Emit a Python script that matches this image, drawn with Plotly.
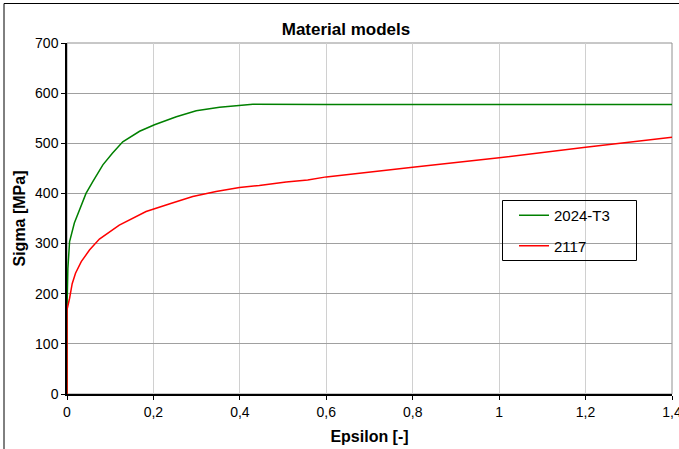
import plotly.graph_objects as go

# 2024-T3 material curve
alu2024_eps = [0, 0, 0.002, 0.006, 0.017, 0.030, 0.044, 0.060, 0.083, 0.105, 0.129, 0.168,
               0.2025, 0.253, 0.299, 0.353, 0.399, 0.43, 0.6, 0.8, 1.0, 1.2, 1.4]
alu2024_sig = [0, 170, 250, 304, 341, 370, 400, 424, 457, 480, 503, 524,
               537, 553, 565, 572, 576, 578, 577.5, 577.5, 577.5, 577.5, 577.5]

# 2117 material curve
alu2117_eps = [0, 0, 0.006, 0.012, 0.0197, 0.033, 0.052, 0.075, 0.121, 0.183, 0.24, 0.291,
               0.345, 0.399, 0.445, 0.507, 0.557, 0.6, 0.8, 1.0, 1.2, 1.4]
alu2117_sig = [0, 168, 191, 220, 241, 264, 287, 309, 337, 364, 380, 394,
               404, 412, 416, 423, 427, 433, 452, 471, 492, 512]

x_ticks = [0, 0.2, 0.4, 0.6, 0.8, 1.0, 1.2, 1.4]
x_tick_labels = ["0", "0,2", "0,4", "0,6", "0,8", "1", "1,2", "1,4"]
y_ticks = [0, 100, 200, 300, 400, 500, 600, 700]
y_tick_labels = ["0", "100", "200", "300", "400", "500", "600", "700"]

W, H = 679, 449
L, R, T, B = 67, 7, 43, 55
pw, ph = W - L - R, H - T - B

def px(xp):
    return (xp - L) / pw

def py(yp):
    return (H - B - yp) / ph

fig = go.Figure()
fig.add_trace(go.Scatter(x=alu2024_eps, y=alu2024_sig, mode="lines", name="2024-T3",
                         line=dict(color="#008000", width=1.5), legendgroup="a"))
fig.add_trace(go.Scatter(x=alu2117_eps, y=alu2117_sig, mode="lines", name="2117",
                         line=dict(color="#ff0000", width=1.5), legendgroup="b"))

font = "Liberation Sans, Arial, sans-serif"

fig.update_layout(
    width=W, height=H,
    margin=dict(l=L, r=R, t=T, b=B, autoexpand=False),
    paper_bgcolor="white", plot_bgcolor="white",
    font=dict(family=font, size=14, color="black"),
    title=dict(text="<b>Material models</b>", x=346 / W, xref="container", xanchor="center",
               y=1 - 29 / H, yref="container", yanchor="middle", font=dict(size=17, family=font)),
    showlegend=True,
    legend=dict(x=px(514), y=py(199), xanchor="left", yanchor="top",
                bgcolor="rgba(0,0,0,0)", borderwidth=0,
                font=dict(size=15, family=font), tracegroupgap=8, itemwidth=30),
    xaxis=dict(range=[0, 1.4], tickvals=x_ticks, ticktext=x_tick_labels, automargin=False,
               ticklabeloverflow="allow",
               showgrid=True, gridcolor="#d0d0d0", gridwidth=1,
               showline=True, linecolor="black", linewidth=1.5,
               ticks="outside", ticklen=4, tickcolor="black", tickwidth=1,
               zeroline=False,
               title=dict(text="<b>Epsilon [-]</b>", font=dict(size=16, family=font), standoff=12)),
    yaxis=dict(range=[0, 700], tickvals=y_ticks, ticktext=y_tick_labels, automargin=False,
               showgrid=True, gridcolor="#a0a0a0", gridwidth=1,
               showline=True, linecolor="black", linewidth=1.5,
               ticks="outside", ticklen=4, tickcolor="black", tickwidth=1,
               zeroline=False,
               title=dict(text="<b>Sigma [MPa]</b>", font=dict(size=16, family=font), standoff=5)),
    shapes=[
        # plot area border
        dict(type="rect", xref="paper", yref="paper", x0=0, x1=1, y0=0, y1=1,
             line=dict(color="#909090", width=1), layer="below"),
        # chart area border
        dict(type="rect", xref="paper", yref="paper", x0=px(4), x1=px(690), y0=py(460), y1=py(3.5),
             line=dict(color="black", width=1)),
        # legend box
        dict(type="rect", xref="paper", yref="paper", x0=px(502.5), x1=px(636.5),
             y0=py(260.5), y1=py(200.5), line=dict(color="black", width=1)),
    ],
)

fig.write_html("out.html", config={"displayModeBar": False},
               post_script="document.body.style.margin='0';document.body.style.overflow='hidden';")
